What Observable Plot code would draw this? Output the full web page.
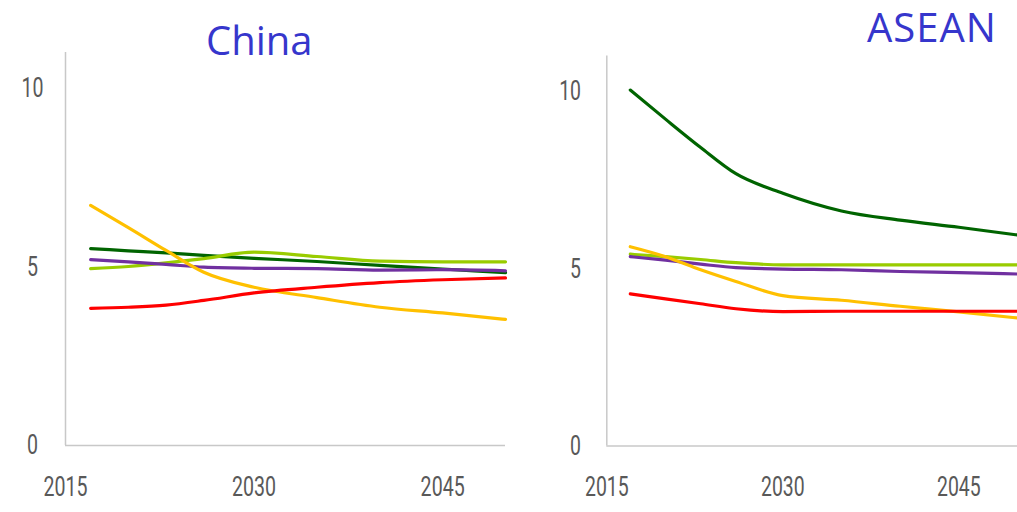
<!DOCTYPE html>
<html>
<head>
<meta charset="utf-8">
<script src="https://cdn.jsdelivr.net/npm/d3@7"></script>
<script src="https://cdn.jsdelivr.net/npm/@observablehq/plot@0.6"></script>
<style>
  html, body { margin: 0; padding: 0; background: #fff; overflow: hidden; }
  body { width: 1017px; height: 512px; position: relative; }
  .panel { position: absolute; top: 0; }
  .title { position: absolute; font-family: "Open Sans", "Noto Sans", sans-serif; font-size: 40px;
           color: #3636cc; line-height: 1.3; white-space: nowrap; }
  svg text { font-family: Roboto, "Liberation Sans", sans-serif; font-weight: 400; }
</style>
</head>
<body>
<div id="china" class="panel" style="left:0px;"></div>
<div id="asean" class="panel" style="left:520px;"></div>
<div class="title" style="left:206px; top:14px;">China</div>
<div class="title" style="left:867px; top:1px; letter-spacing:1px;">ASEAN</div>
<script>
// Projection years shared by every series
const years = [2017, 2020, 2023, 2026, 2030, 2035, 2040, 2045, 2050];
const xTicks = [2015, 2030, 2045];
const yTicks = [0, 5, 10];

const seriesNames = ["s1", "s2", "s3", "s4", "s5"];
const seriesColors = ["#006400", "#99cc00", "#7030a0", "#ffc000", "#ff0000"];

// China
const chinaS1 = [5.51, 5.45, 5.39, 5.32, 5.24, 5.15, 5.04, 4.94, 4.84];
const chinaS2 = [4.95, 5.01, 5.11, 5.23, 5.41, 5.29, 5.16, 5.14, 5.14];
const chinaS3 = [5.20, 5.14, 5.07, 4.99, 4.96, 4.95, 4.91, 4.92, 4.89];
const chinaS4 = [6.72, 6.10, 5.46, 4.85, 4.43, 4.14, 3.87, 3.71, 3.53];
const chinaS5 = [3.84, 3.87, 3.93, 4.06, 4.27, 4.43, 4.56, 4.64, 4.69];

// ASEAN
const aseanS1 = [10.04, 9.22, 8.42, 7.68, 7.13, 6.63, 6.37, 6.17, 5.95];
const aseanS2 = [5.41, 5.34, 5.26, 5.17, 5.11, 5.11, 5.11, 5.11, 5.11];
const aseanS3 = [5.34, 5.24, 5.13, 5.03, 4.99, 4.97, 4.92, 4.89, 4.85];
const aseanS4 = [5.62, 5.34, 4.97, 4.64, 4.24, 4.11, 3.94, 3.78, 3.61];
const aseanS5 = [4.29, 4.15, 4.01, 3.87, 3.79, 3.80, 3.80, 3.80, 3.80];

function toRows(lists) {
  const rows = [];
  lists.forEach((vals, i) => {
    vals.forEach((v, j) => rows.push({series: seriesNames[i], year: years[j], value: v}));
  });
  return rows;
}

// Narrow the tick labels horizontally, keeping each label's anchor point fixed
function condenseTickLabels(svg, factor) {
  d3.select(svg).selectAll('g[aria-label$="tick label"] text').each(function() {
    const x = this.getAttribute("x");
    if (x !== null && /^-?[\d.]+$/.test(x.trim())) {
      this.setAttribute("x", +x / factor);
    }
    const t = this.getAttribute("transform") || "";
    this.setAttribute("transform", `${t} scale(${factor},1)`.trim());
  });
  return svg;
}

function panel({rows, width, height, marginLeft, marginRight, marginTop, marginBottom,
                yLabelAnchor, yLabelPadding}) {
  const svg = Plot.plot({
    width, height, marginLeft, marginRight, marginTop, marginBottom,
    x: {domain: [2015, 2050]},
    y: {domain: [0, 11]},
    color: {domain: seriesNames, range: seriesColors},
    style: {background: "transparent", overflow: "visible"},
    marks: [
      Plot.ruleX([2015], {y1: 0, y2: 11, stroke: "#c8c8c8", strokeWidth: 1.5}),
      Plot.ruleY([0], {stroke: "#c8c8c8", strokeWidth: 1.5}),
      Plot.axisY({ticks: yTicks, tickSize: 0, tickPadding: yLabelPadding, textAnchor: yLabelAnchor,
                  fontSize: 28, fill: "#595959", label: null}),
      Plot.axisX({ticks: xTicks, tickSize: 0, tickPadding: 31, tickFormat: d => String(d),
                  fontSize: 28, fill: "#595959", label: null}),
      Plot.line(rows, {x: "year", y: "value", z: "series", stroke: "series",
                       strokeWidth: 3.2, curve: "monotone-x"})
    ]
  });
  return condenseTickLabels(svg, 0.7);
}

document.getElementById("china").append(panel({
  rows: toRows([chinaS1, chinaS2, chinaS3, chinaS4, chinaS5]),
  width: 520, height: 512, marginLeft: 65, marginRight: 15, marginTop: 52, marginBottom: 67,
  yLabelAnchor: "middle", yLabelPadding: 33
}));

document.getElementById("asean").append(panel({
  rows: toRows([aseanS1, aseanS2, aseanS3, aseanS4, aseanS5]),
  width: 501, height: 512, marginLeft: 87, marginRight: 0, marginTop: 56, marginBottom: 63,
  yLabelAnchor: "end", yLabelPadding: 26
}));
</script>
</body>
</html>
